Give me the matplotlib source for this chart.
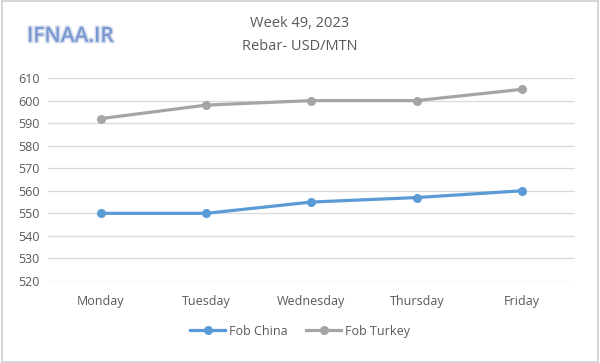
import matplotlib
matplotlib.use("Agg")
import matplotlib.pyplot as plt
import matplotlib.patheffects as pe
from matplotlib.patches import Rectangle

days = ["Monday", "Tuesday", "Wednesday", "Thursday", "Friday"]
fob_china = [550, 550, 555, 557, 560]
fob_turkey = [592, 598, 600, 600, 605]
yticks = list(range(520, 611, 10))

plt.rcParams['font.family'] = ['Open Sans', 'DejaVu Sans']

fig = plt.figure(figsize=(6, 3.63), dpi=100)
fig.patches.append(Rectangle((0.004, 0.004), 0.992, 0.992, transform=fig.transFigure,
                             fill=False, edgecolor='#d0d0d0', linewidth=1.2))
ax = fig.add_axes([0.08, 0.226, 0.878, 0.559])

x = list(range(len(days)))
ax.plot(x, fob_china, color='#5b9bd5', lw=2.3, marker='o', ms=5.5, label='Fob China', zorder=3)
ax.plot(x, fob_turkey, color='#a5a5a5', lw=2.3, marker='o', ms=5.5, label='Fob Turkey', zorder=3)

ax.set_xlim(-0.5, 4.5)
ax.set_ylim(520, 610)
ax.set_yticks(yticks)
ax.set_xticks(x)
ax.set_xticklabels(days)
ax.grid(axis='y', color='#d9d9d9', lw=0.9)
ax.set_axisbelow(True)
for s in ax.spines.values():
    s.set_visible(False)
ax.tick_params(length=0, colors='#595959', labelsize=9)
ax.tick_params(axis='x', pad=10)
ax.tick_params(axis='y', pad=6)

fig.text(0.5, 0.935, "Week 49, 2023", ha='center', va='center', fontsize=10.5, color='#595959')
fig.text(0.5, 0.872, "Rebar- USD/MTN", ha='center', va='center', fontsize=10.5, color='#595959')

fig.text(0.045, 0.9, "IFNAA.IR", ha='left', va='center', fontsize=15, fontweight='semibold',
         color='#7a98cf',
         path_effects=[pe.withStroke(linewidth=2.2, foreground='#d3dcee')])

fig.legend(loc='center', bbox_to_anchor=(0.5, 0.088), ncol=2, frameon=False,
           fontsize=9, labelcolor='#595959', handlelength=2.8, columnspacing=1.5,
           handletextpad=0.3)

fig.savefig("out.png", dpi=100)
